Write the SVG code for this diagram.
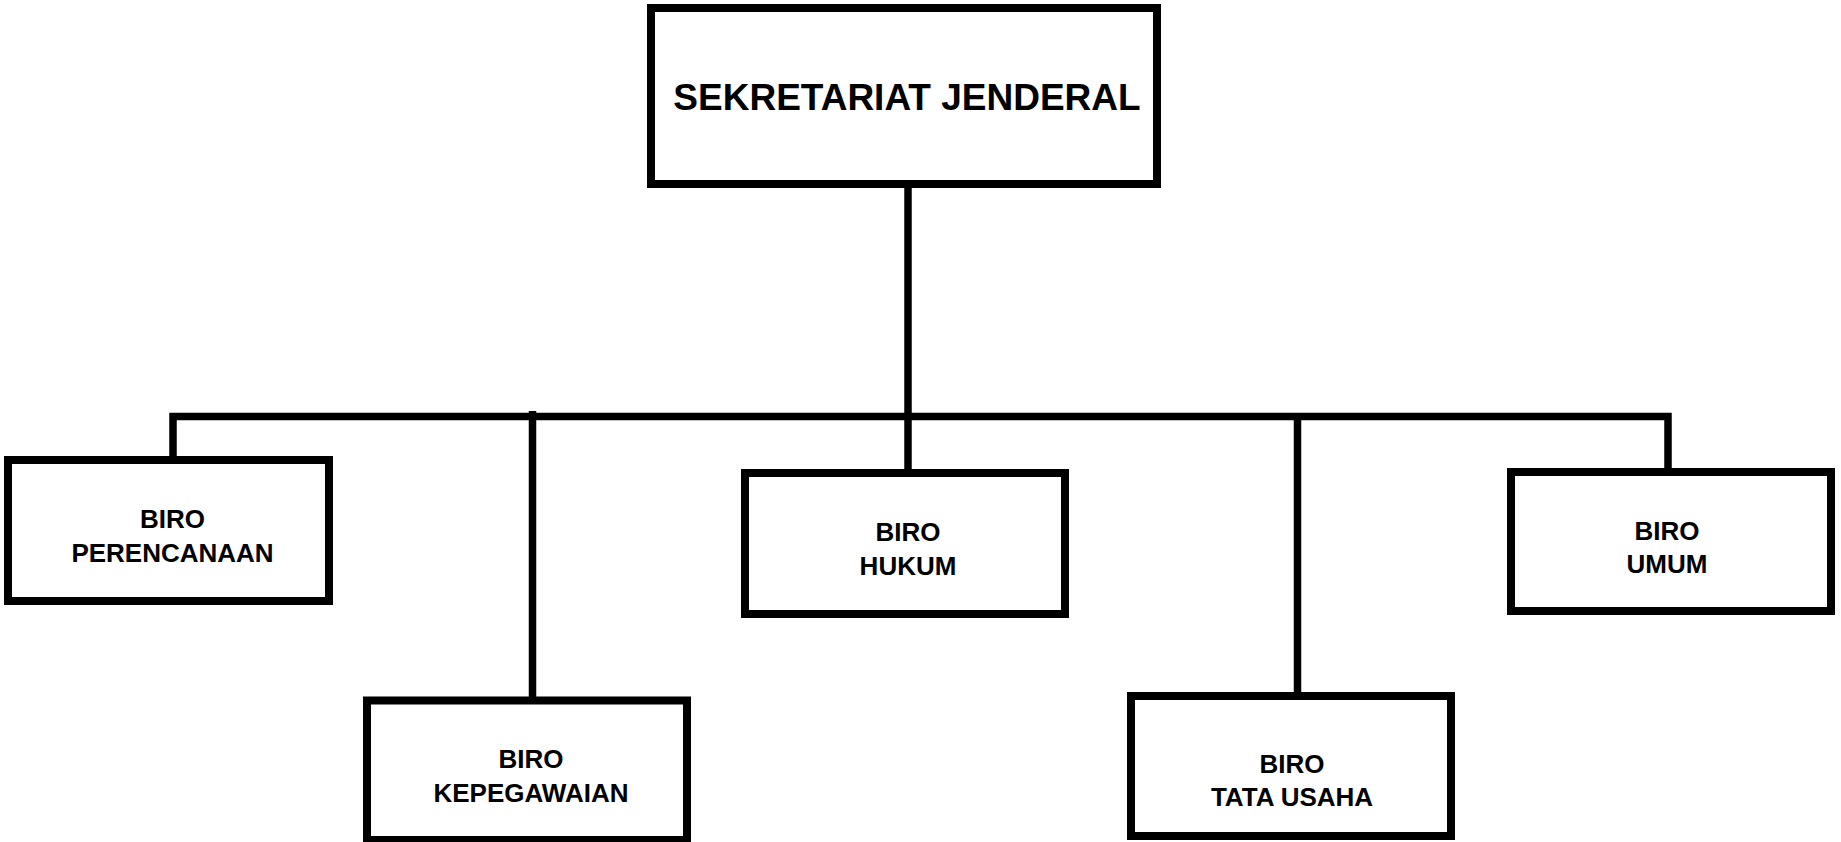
<svg xmlns="http://www.w3.org/2000/svg" width="1841" height="842" viewBox="0 0 1841 842">
<style>
.box{fill:#fff;stroke:#000;stroke-width:8}
.ln{fill:none;stroke:#000;stroke-width:7.5;stroke-linejoin:miter}
.t{font-family:"Liberation Sans",Arial,sans-serif;font-weight:bold;font-size:26px;fill:#000;text-anchor:middle}
.tt{font-family:"Liberation Sans",Arial,sans-serif;font-weight:bold;font-size:37px;fill:#000;text-anchor:middle}
</style>
<rect width="1841" height="842" fill="#fff"/>
<g id="connectors">
<path class="ln" d="M908,184 V473"/>
<path class="ln" d="M173,460 V416.5 H1668 V472"/>
<path class="ln" d="M532.5,411 V700"/>
<path class="ln" d="M1297.5,416 V696"/>
</g>
<g id="sekjen">
<rect class="box" x="651" y="8" width="506" height="176"/>
<text class="tt" x="907" y="110">SEKRETARIAT JENDERAL</text>
</g>
<g id="perencanaan">
<rect class="box" x="8" y="460" width="321" height="141"/>
<text class="t" x="172.5" y="528">BIRO</text>
<text class="t" x="172.5" y="562">PERENCANAAN</text>
</g>
<g id="kepegawaian">
<rect class="box" x="367" y="700.5" width="320" height="139.5"/>
<text class="t" x="531" y="768">BIRO</text>
<text class="t" x="531" y="802">KEPEGAWAIAN</text>
</g>
<g id="hukum">
<rect class="box" x="745" y="473" width="320" height="141"/>
<text class="t" x="908" y="541">BIRO</text>
<text class="t" x="908" y="575">HUKUM</text>
</g>
<g id="tatausaha">
<rect class="box" x="1131" y="696" width="320" height="140"/>
<text class="t" x="1292" y="773">BIRO</text>
<text class="t" x="1292" y="806">TATA USAHA</text>
</g>
<g id="umum">
<rect class="box" x="1511" y="472" width="320" height="139"/>
<text class="t" x="1667" y="540">BIRO</text>
<text class="t" x="1667" y="573">UMUM</text>
</g>
</svg>
